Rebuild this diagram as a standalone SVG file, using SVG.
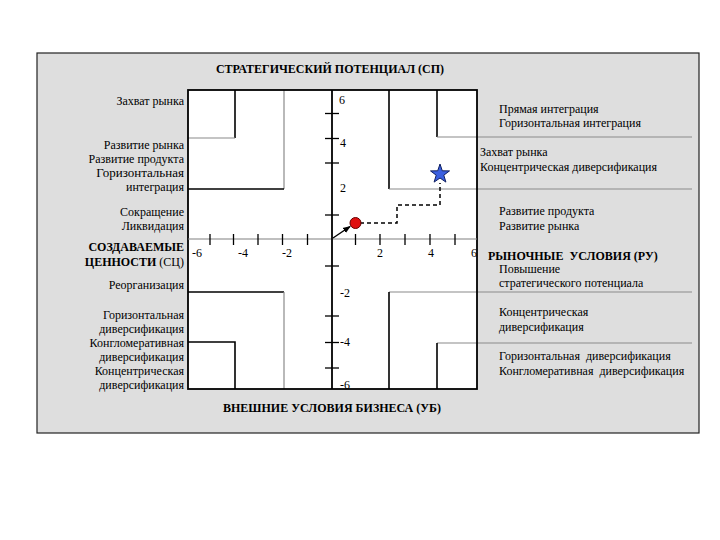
<svg xmlns="http://www.w3.org/2000/svg" width="720" height="540" viewBox="0 0 720 540">
<defs>
<style>
.t{font-family:"Liberation Serif","DejaVu Serif",serif;font-size:12px;fill:#000}
.b{font-weight:bold}
.r{text-anchor:end}
.c{text-anchor:middle}
.blk{stroke:#000;stroke-width:1.6;fill:none}
.gry{stroke:#8a8a8a;stroke-width:1.2;fill:none}
.tk{stroke:#000;stroke-width:1.3}
</style>
<marker id="ah" markerWidth="8" markerHeight="8" refX="7" refY="4" orient="auto" markerUnits="userSpaceOnUse">
<path d="M0,1 L8,4 L0,7 Z" fill="#000"/>
</marker>
</defs>
<rect x="0" y="0" width="720" height="540" fill="#fff"/>
<rect x="37" y="53" width="662" height="380" fill="#dedede" stroke="#222" stroke-width="1.2"/>
<text class="t b c" x="330" y="73" font-size="13">СТРАТЕГИЧЕСКИЙ ПОТЕНЦИАЛ (СП)</text>
<text class="t b c" x="332" y="412" font-size="12.8">ВНЕШНИЕ УСЛОВИЯ БИЗНЕСА (УБ)</text>

<g id="plot">
<rect x="188" y="90" width="289" height="299" fill="#fff"/>
<path class="blk" d="M235,90 V138"/>
<path class="gry" d="M188,138 H235"/>
<path class="gry" d="M284,90 V189"/>
<path class="blk" d="M188,189 H284"/>
<path class="blk" d="M389,90 V189"/>
<path class="gry" d="M389,189 H692"/>
<path class="blk" d="M437,90 V137"/>
<path class="gry" d="M437,137 H692"/>
<path class="blk" d="M188,292 H284"/>
<path class="gry" d="M284,292 V389"/>
<path class="blk" d="M188,342 H235 V389"/>
<path class="gry" d="M389,292 H692"/>
<path class="blk" d="M389,292 V389"/>
<path class="gry" d="M437,343 H692"/>
<path class="blk" d="M437,343 V389"/>
<rect x="188" y="90" width="289" height="299" fill="none" stroke="#000" stroke-width="1.8"/>
</g>

<g id="axes">
<line x1="188" y1="239" x2="477" y2="239" stroke="#808080" stroke-width="1.2"/>
<line x1="332" y1="90" x2="332" y2="389" stroke="#000" stroke-width="1.8"/>
<g class="tk">
<line x1="210" y1="234" x2="210" y2="245"/>
<line x1="233.5" y1="234" x2="233.5" y2="245"/>
<line x1="258" y1="234" x2="258" y2="245"/>
<line x1="282.5" y1="234" x2="282.5" y2="245"/>
<line x1="307.5" y1="234" x2="307.5" y2="245"/>
<line x1="355.5" y1="234" x2="355.5" y2="245"/>
<line x1="380" y1="234" x2="380" y2="245"/>
<line x1="405" y1="234" x2="405" y2="245"/>
<line x1="430" y1="234" x2="430" y2="245"/>
<line x1="455" y1="234" x2="455" y2="245"/>
<line x1="325" y1="113.5" x2="339" y2="113.5"/>
<line x1="325" y1="138.5" x2="339" y2="138.5"/>
<line x1="325" y1="163" x2="339" y2="163"/>
<line x1="325" y1="215" x2="339" y2="215"/>
<line x1="325" y1="266" x2="339" y2="266"/>
<line x1="325" y1="316" x2="339" y2="316"/>
<line x1="325" y1="342.5" x2="339" y2="342.5"/>
<line x1="325" y1="368" x2="339" y2="368"/>
</g>
<g class="t">
<text x="339" y="104">6</text>
<text x="340" y="147">4</text>
<text x="340" y="192">2</text>
<text x="340" y="297">-2</text>
<text x="340" y="346">-4</text>
<text x="340" y="389">-6</text>
<text class="c" x="197" y="257">-6</text>
<text class="c" x="243" y="257">-4</text>
<text class="c" x="287" y="257">-2</text>
<text class="c" x="380" y="257">2</text>
<text class="c" x="431" y="257">4</text>
<text class="c" x="474" y="257">6</text>
</g>
</g>

<g id="connectors">
<line x1="333" y1="238" x2="350" y2="226.5" stroke="#000" stroke-width="1.4" marker-end="url(#ah)"/>
<path d="M360,223 H397 V205 H440 V183" fill="none" stroke="#000" stroke-width="1.5" stroke-dasharray="4,3"/>
</g>

<g id="start">
<circle cx="355.5" cy="223" r="5.5" fill="#e01010" stroke="#600" stroke-width="1"/>
</g>
<g id="target">
<polygon points="440,164 442.3,170.8 449.5,170.9 443.8,175.2 445.9,182.1 440,178 434.1,182.1 436.2,175.2 430.5,170.9 437.7,170.8" fill="#3a5fe0" stroke="#102060" stroke-width="1"/>
</g>

<g id="left-labels" class="t r">
<text x="184" y="105">Захват рынка</text>
<text x="184" y="149">Развитие рынка</text>
<text x="184" y="163">Развитие продукта</text>
<text x="184" y="177" font-size="13">Горизонтальная</text>
<text x="184" y="191">интеграция</text>
<text x="184" y="216">Сокращение</text>
<text x="184" y="230">Ликвидация</text>
<text x="184" y="251" class="b">СОЗДАВАЕМЫЕ</text>
<text x="184" y="266"><tspan font-weight="bold">ЦЕННОСТИ</tspan> (СЦ)</text>
<text x="184" y="289">Реорганизация</text>
<text x="184" y="319">Горизонтальная</text>
<text x="184" y="333">диверсификация</text>
<text x="184" y="347">Конгломеративная</text>
<text x="184" y="361">диверсификация</text>
<text x="184" y="375">Концентрическая</text>
<text x="184" y="389">диверсификация</text>
</g>

<g id="right-labels" class="t">
<text x="499" y="113">Прямая интеграция</text>
<text x="499" y="127">Горизонтальная интеграция</text>
<text x="480" y="156">Захват рынка</text>
<text x="480" y="171">Концентрическая диверсификация</text>
<text x="499" y="215">Развитие продукта</text>
<text x="499" y="230">Развитие рынка</text>
<text x="488" y="260" class="b" xml:space="preserve">РЫНОЧНЫЕ  УСЛОВИЯ (РУ)</text>
<text x="499" y="273">Повышение</text>
<text x="499" y="287">стратегического потенциала</text>
<text x="499" y="316">Концентрическая</text>
<text x="499" y="331">диверсификация</text>
<text x="499" y="360" xml:space="preserve">Горизонтальная  диверсификация</text>
<text x="499" y="375" xml:space="preserve">Конгломеративная  диверсификация</text>
</g>
</svg>
